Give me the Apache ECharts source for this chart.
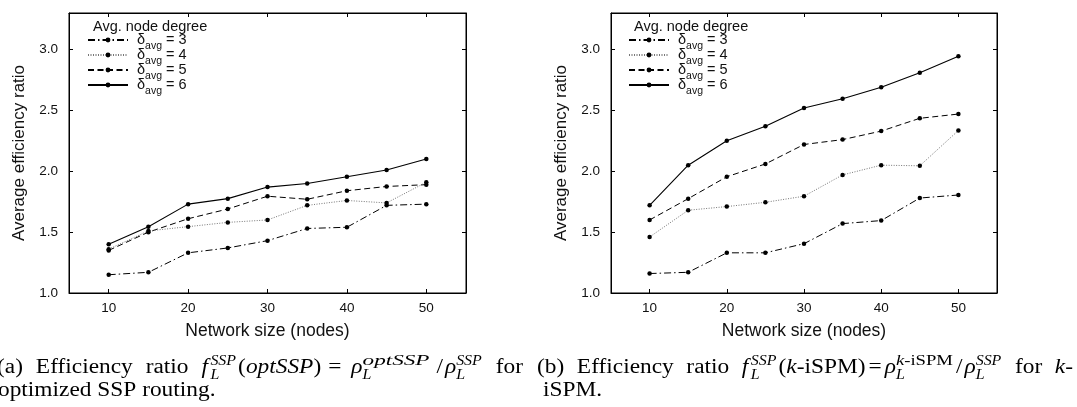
<!DOCTYPE html>
<html><head><meta charset="utf-8">
<script src="https://cdn.jsdelivr.net/npm/echarts@6/dist/echarts.min.js"></script>
<style>html,body{margin:0;padding:0;background:#fff}#c{width:1077px;height:407px}</style>
</head><body><div id="c"></div>
<script>
// ---------- data ----------
const networkSizes = [10, 15, 20, 25, 30, 35, 40, 45, 50];
const xTickValues = [10, 20, 30, 40, 50];
const yTickValues = [1.0, 1.5, 2.0, 2.5, 3.0];
const seriesNames = ['δavg = 3', 'δavg = 4', 'δavg = 5', 'δavg = 6'];
const optSSP_deg3 = [1.15, 1.17, 1.33, 1.37, 1.43, 1.53, 1.54, 1.72, 1.73];
const optSSP_deg4 = [1.36, 1.51, 1.545, 1.58, 1.60, 1.72, 1.76, 1.74, 1.91];
const optSSP_deg5 = [1.35, 1.50, 1.61, 1.69, 1.795, 1.77, 1.84, 1.875, 1.89];
const optSSP_deg6 = [1.40, 1.545, 1.73, 1.775, 1.87, 1.90, 1.955, 2.01, 2.10];
const kiSPM_deg3 = [1.16, 1.17, 1.33, 1.33, 1.405, 1.57, 1.595, 1.78, 1.805];
const kiSPM_deg4 = [1.46, 1.68, 1.71, 1.745, 1.795, 1.97, 2.05, 2.045, 2.335];
const kiSPM_deg5 = [1.60, 1.775, 1.955, 2.06, 2.22, 2.26, 2.33, 2.435, 2.47];
const kiSPM_deg6 = [1.72, 2.05, 2.25, 2.37, 2.52, 2.595, 2.69, 2.81, 2.945];
const legendTitle = 'Avg. node degree';
const xAxisName = 'Network size (nodes)';
const yAxisName = 'Average efficiency ratio';

// ---------- styling ----------
const sansFont = '"Liberation Sans", Arial, sans-serif';
const serifFont = '"Liberation Serif", "DejaVu Serif", serif';
const lineStyles = [
  { type: [7, 3, 1.5, 3], color: '#000', width: 1 },
  { type: [1, 1.5], color: '#777', width: 1 },
  { type: [6, 3.5], color: '#000', width: 1 },
  { type: 'solid', color: '#000', width: 1.1 }
];
const grids = [
  { left: 69, top: 13, width: 397, height: 280 },
  { left: 611, top: 13, width: 386, height: 280 }
];

const chart = echarts.init(document.getElementById('c'), null, { renderer: 'canvas' });

const xAxes = [], yAxes = [];
grids.forEach((g, gi) => {
  const base = {
    gridIndex: gi, type: 'value', min: 5, max: 55,
    axisLine: { show: true, lineStyle: { color: '#000', width: 1 } },
    axisTick: { show: true, inside: true, length: 4, customValues: xTickValues, lineStyle: { color: '#000' } },
    splitLine: { show: false }
  };
  xAxes.push(Object.assign({}, base, {
    position: 'bottom',
    axisLabel: { show: true, customValues: xTickValues, margin: 8, fontSize: 13.5, color: '#111', fontFamily: sansFont },
    name: xAxisName, nameLocation: 'middle', nameGap: 29,
    nameTextStyle: { fontSize: 17.5, color: '#111', fontFamily: sansFont }
  }));
  xAxes.push(Object.assign({}, base, { position: 'top', axisLabel: { show: false } }));
  const ybase = {
    gridIndex: gi, type: 'value', min: 1.0, max: 3.3,
    axisLine: { show: true, lineStyle: { color: '#000', width: 1 } },
    axisTick: { show: true, inside: true, length: 4, customValues: yTickValues, lineStyle: { color: '#000' } },
    splitLine: { show: false }
  };
  yAxes.push(Object.assign({}, ybase, {
    position: 'left',
    axisLabel: { show: true, customValues: yTickValues, margin: 11, fontSize: 13.5, color: '#111', fontFamily: sansFont,
      formatter: v => v.toFixed(1) },
    name: yAxisName, nameLocation: 'middle', nameGap: 41,
    nameTextStyle: { fontSize: 17, color: '#111', fontFamily: sansFont }
  }));
  yAxes.push(Object.assign({}, ybase, { position: 'right', axisLabel: { show: false } }));
});

const panels = [
  [optSSP_deg3, optSSP_deg4, optSSP_deg5, optSSP_deg6],
  [kiSPM_deg3, kiSPM_deg4, kiSPM_deg5, kiSPM_deg6]
];
const series = [];
panels.forEach((arrs, gi) => {
  arrs.forEach((arr, si) => {
    series.push({
      type: 'line', name: seriesNames[si],
      xAxisIndex: gi * 2, yAxisIndex: gi * 2,
      data: networkSizes.map((x, i) => [x, arr[i]]),
      symbol: 'circle', symbolSize: 4.5, showSymbol: true,
      itemStyle: { color: '#000' },
      lineStyle: lineStyles[si],
      emphasis: { disabled: true },
      z: 10 - si
    });
  });
});

const legendRich = {
  d: { fontSize: 14.5, lineHeight: 15, fontFamily: sansFont, color: '#111', padding: [0, 0, 0, 4], verticalAlign: 'middle' },
  s: { fontSize: 10.5, lineHeight: 15, fontFamily: sansFont, color: '#111', padding: [12, 0, 0, 0], verticalAlign: 'middle' },
  n: { fontSize: 14.5, lineHeight: 15, fontFamily: sansFont, color: '#111', verticalAlign: 'middle' }
};
function legendFmt(name) {
  const m = name.match(/δavg = (\d)/);
  return '{d|δ}{s|avg}{n| = ' + m[1] + '}';
}
const legendLefts = [87, 628];
const legends = legendLefts.map(l => ({
  orient: 'vertical', left: l, top: 28.5, padding: 0,
  itemWidth: 40, itemHeight: 6, itemGap: -8,
  selectedMode: false, data: seriesNames,
  formatter: legendFmt,
  textStyle: { rich: legendRich, fontSize: 14.5, fontFamily: sansFont, color: '#111' }
}));
const titleLefts = [93, 634];
const titles = titleLefts.map(l => ({
  text: legendTitle, left: l, top: 19, padding: 0,
  textStyle: { fontSize: 14.5, fontWeight: 'normal', fontFamily: sansFont, color: '#111' }
}));

// ---------- captions (typeset text) ----------
const ctx = document.createElement('canvas').getContext('2d');
const mainSize = 20.5, scriptSize = 14, sx = 1.14;
function fontStr(size, italic) { return (italic ? 'italic ' : '') + size + 'px ' + serifFont; }
function mw(t, size, italic, k) { ctx.font = fontStr(size, italic); return ctx.measureText(t).width * sx * (k || 1); }
function piecesWidth(pcs, size) { return pcs.reduce((s, p) => s + mw(p[0], size, p[1], p[2]), 0); }
const SUP = -9, SUB = 5;
function layoutLine(items, x0, x1, baseline, justify) {
  let natural = 0, glues = 0;
  const ws = items.map(it => {
    let w;
    if (it.g) { w = mw(' ', mainSize, false); glues++; }
    else if (it.stack) { w = Math.max(piecesWidth(it.sup, scriptSize), piecesWidth(it.sub, scriptSize)) + 1; }
    else { w = piecesWidth(it.p, mainSize) + (it.pl || 0) + (it.pr || 0); }
    natural += w; return w;
  });
  const extra = (justify && x1 != null && glues) ? Math.max(0, (x1 - x0 - natural) / glues) : 0;
  const els = [];
  let x = x0;
  const put = (pcs, size, xx, base) => {
    pcs.forEach(p => {
      els.push({ type: 'text', x: xx, y: base - 0.34 * size, scaleX: sx * (p[2] || 1), silent: true,
        style: { text: p[0], fontSize: size, fontFamily: serifFont, fontStyle: p[1] ? 'italic' : 'normal',
          fill: '#000', align: 'left', verticalAlign: 'middle' } });
      xx += mw(p[0], size, p[1], p[2]);
    });
  };
  items.forEach((it, i) => {
    if (it.g) { x += ws[i] + extra; return; }
    if (it.stack) {
      put(it.sup, scriptSize, x, baseline + SUP);
      put(it.sub, scriptSize, x, baseline + SUB);
    } else {
      put(it.p, mainSize, x + (it.pl || 0), baseline);
    }
    x += ws[i];
  });
  return els;
}
const R = t => ({ p: [[t, false]] });
const I = t => ({ p: [[t, true]] });
const G = { g: 1 };
const capA1 = [R('(a)'), G, R('Efficiency'), G, R('ratio'), G, { p: [['f', true]], pr: 2.5 },
  { stack: 1, sup: [['SSP', true]], sub: [['L', true]] },
  { p: [['(', false]], pl: 1 }, I('optSSP'), R(')'), { p: [['=', false]], pl: 7, pr: 10 }, I('ρ'),
  { stack: 1, sup: [['optSSP', true, 1.45]], sub: [['L', true]] },
  { p: [['/', false]], pl: 6, pr: 2 }, I('ρ'),
  { stack: 1, sup: [['SSP', true]], sub: [['L', true]] }, G, R('for')];
const capA2 = [R('optimized'), G, R('SSP'), G, R('routing.')];
const capB1 = [R('(b)'), G, R('Efficiency'), G, R('ratio'), G, { p: [['f', true]], pr: 2.5 },
  { stack: 1, sup: [['SSP', true]], sub: [['L', true]] },
  { p: [['(', false]], pl: 1 }, { p: [['k', true], ['-iSPM', false]] }, R(')'), { p: [['=', false]], pl: 3, pr: 3 }, I('ρ'),
  { stack: 1, sup: [['k', true, 1.17], ['-iSPM', false, 1.17]], sub: [['L', true]] },
  { p: [['/', false]], pl: 2, pr: 2 }, I('ρ'),
  { stack: 1, sup: [['SSP', true]], sub: [['L', true]] }, G, R('for'), G, { p: [['k', true], ['-', false]] }];
const capB2 = [R('iSPM.')];
const graphics = [].concat(
  layoutLine(capA1, -3, 523, 375, true),
  layoutLine(capA2, -2, null, 398, false),
  layoutLine(capB1, 537, 1073, 375, true),
  layoutLine(capB2, 543, null, 398, false)
);

chart.setOption({
  animation: false,
  backgroundColor: '#fff',
  title: titles,
  legend: legends,
  grid: grids.map(g => Object.assign({ show: true, borderColor: '#000', borderWidth: 1, backgroundColor: 'transparent' }, g)),
  xAxis: xAxes,
  yAxis: yAxes,
  series: series,
  graphic: { elements: graphics }
});
</script>
</body></html>
